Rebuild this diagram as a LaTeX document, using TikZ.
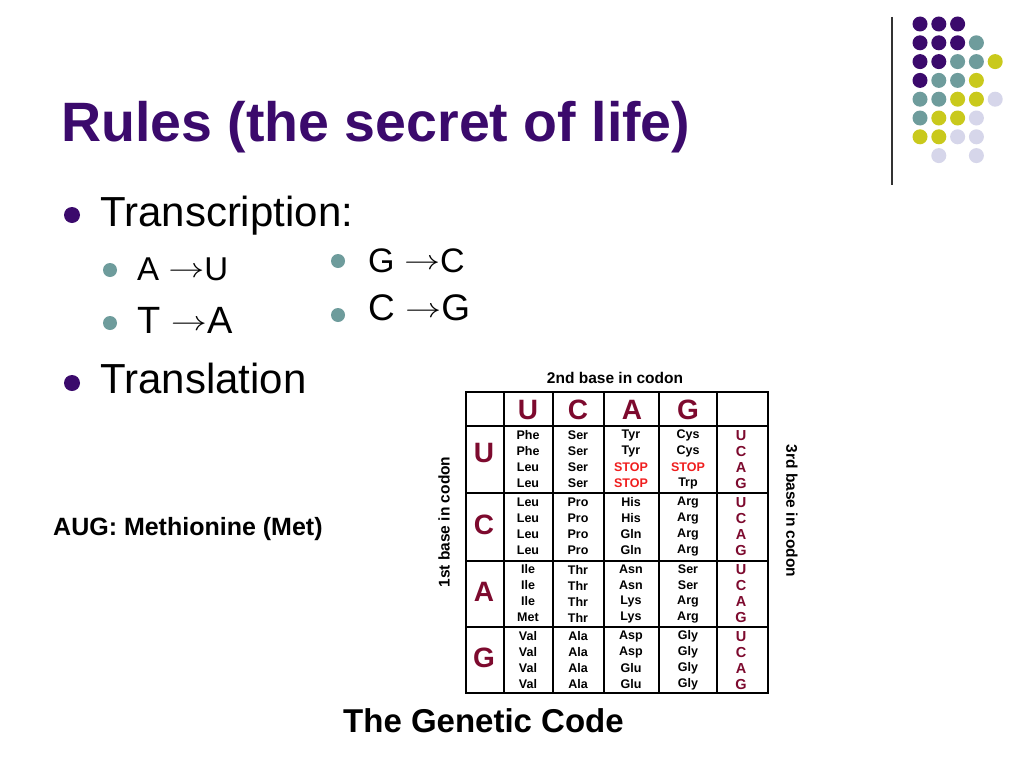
\documentclass[tikz,border=0pt]{standalone}
\usepackage{graphicx}
\usepackage{fontspec}
\setmainfont{Liberation Sans}
\definecolor{slidepurple}{HTML}{3B0A6C}
\definecolor{dotteal}{HTML}{6E9C9C}
\definecolor{dotyellow}{HTML}{C9C91C}
\definecolor{dotlav}{HTML}{D6D6EA}
\definecolor{basered}{HTML}{7D0A2E}
\definecolor{stopred}{HTML}{F01E1E}
\newcommand{\setsz}[1]{\fontsize{#1}{#1}\selectfont}
\newcommand{\stp}{\textcolor{stopred}{STOP}}
\newcommand{\pairarr}{\raisebox{3pt}{\scalebox{1.45}[1.1]{$\rightarrow$}}}
\tikzset{
  mainbullet/.style={circle,fill=slidepurple,inner sep=0pt,minimum size=16pt},
  subbullet/.style={circle,fill=dotteal,inner sep=0pt,minimum size=14pt},
  txt/.style={anchor=base west,inner sep=0pt},
  aacell/.style={font=\bfseries\setsz{12.5},inner sep=0pt},
  bigbase/.style={font=\bfseries\setsz{28},text=basered,inner sep=0pt},
  thirdbase/.style={font=\bfseries\setsz{14.5},text=basered,inner sep=0pt},
  axislabel/.style={font=\bfseries\setsz{15.5},inner sep=0pt},
  dot/.style={circle,inner sep=0pt,minimum size=15pt}
}
\begin{document}
\begin{tikzpicture}[x=1pt,y=-1pt]
  \fill[white] (0,0) rectangle (1024,768);
  \useasboundingbox (0,0) rectangle (1024,768);
  % corner dots
  \draw[line width=1.2pt,black!80] (892,17) -- (892,185);
  \foreach \i/\j/\c in {0/0/slidepurple,1/0/slidepurple,2/0/slidepurple,
      0/1/slidepurple,1/1/slidepurple,2/1/slidepurple,3/1/dotteal,
      0/2/slidepurple,1/2/slidepurple,2/2/dotteal,3/2/dotteal,4/2/dotyellow,
      0/3/slidepurple,1/3/dotteal,2/3/dotteal,3/3/dotyellow,
      0/4/dotteal,1/4/dotteal,2/4/dotyellow,3/4/dotyellow,4/4/dotlav,
      0/5/dotteal,1/5/dotyellow,2/5/dotyellow,3/5/dotlav,
      0/6/dotyellow,1/6/dotyellow,2/6/dotlav,3/6/dotlav,
      1/7/dotlav,3/7/dotlav}
    \node[dot,fill=\c] (dot-\i-\j) at (920+18.8*\i,24+18.8*\j) {};
  % title and bullets
  \node[txt,font=\bfseries\setsz{55.5},text=slidepurple] (title) at (61,141) {Rules (the secret of life)};
  \node[mainbullet] (b1) at (72,215) {};
  \node[txt,font=\setsz{42}] (transcr) at (100,226) {Transcription:};
  \node[subbullet] (s1) at (110,270) {};
  \node[txt,font=\setsz{33}] (au) at (137,280) {A \pairarr U};
  \node[subbullet] (s2) at (110,323) {};
  \node[txt,font=\setsz{38}] (ta) at (137,333) {T \pairarr A};
  \node[subbullet] (s3) at (338,261) {};
  \node[txt,font=\setsz{34}] (gc) at (368,272) {G \pairarr C};
  \node[subbullet] (s4) at (338,315) {};
  \node[txt,font=\setsz{37}] (cg) at (368,320) {C \pairarr G};
  \node[mainbullet] (b2) at (72,383) {};
  \node[txt,font=\setsz{42}] (transl) at (100,393) {Translation};
  \node[txt,font=\bfseries\setsz{25}] (aug) at (53,535) {AUG: Methionine (Met)};
  % genetic code table
  \draw[line width=1.6pt] (466,392) rectangle (768,693);
  \foreach \x in {504,553,604,659,717}
    \draw[line width=1.6pt] (\x,392) -- (\x,693);
  \foreach \y in {426,493,561,627}
    \draw[line width=1.6pt] (466,\y) -- (768,\y);
  \node[axislabel] (second) at (615,378) {2nd base in codon};
  \node[axislabel,rotate=90] (first) at (444,522) {1st base in codon};
  \node[axislabel,rotate=-90] (third) at (792,511) {3rd base in codon};
  \foreach \b/\x in {U/528,C/578,A/632,G/688}
    \node[bigbase] (top-\b) at (\x,410) {\b};
  \foreach \b/\y in {U/453,C/525,A/592,G/658}
    \node[bigbase] (left-\b) at (484,\y) {\b};
  \foreach \a/\bb/\c/\d [count=\n from 0] in {
      Phe/Ser/Tyr/Cys, Phe/Ser/Tyr/Cys, Leu/Ser/\stp/\stp, Leu/Ser/\stp/Trp,
      Leu/Pro/His/Arg, Leu/Pro/His/Arg, Leu/Pro/Gln/Arg, Leu/Pro/Gln/Arg,
      Ile/Thr/Asn/Ser, Ile/Thr/Asn/Ser, Ile/Thr/Lys/Arg, Met/Thr/Lys/Arg,
      Val/Ala/Asp/Gly, Val/Ala/Asp/Gly, Val/Ala/Glu/Gly, Val/Ala/Glu/Gly} {
    \pgfmathsetmacro{\yy}{426+67*int(\n/4)+9.5+16*mod(\n,4)}
    \node[aacell] (aa-\n-1) at (528,\yy) {\a};
    \node[aacell] (aa-\n-2) at (578,\yy) {\bb};
    \node[aacell] (aa-\n-3) at (631,\yy) {\c};
    \node[aacell] (aa-\n-4) at (688,\yy) {\d};
    \pgfmathsetmacro{\k}{int(mod(\n,4))}
    \ifcase\k \def\thirdb{U}\or \def\thirdb{C}\or \def\thirdb{A}\or \def\thirdb{G}\fi
    \node[thirdbase] (third-\n) at (741,\yy) {\thirdb};
  }
  \node[txt,font=\bfseries\setsz{33}] (caption) at (343,732) {The Genetic Code};
\end{tikzpicture}
\end{document}
